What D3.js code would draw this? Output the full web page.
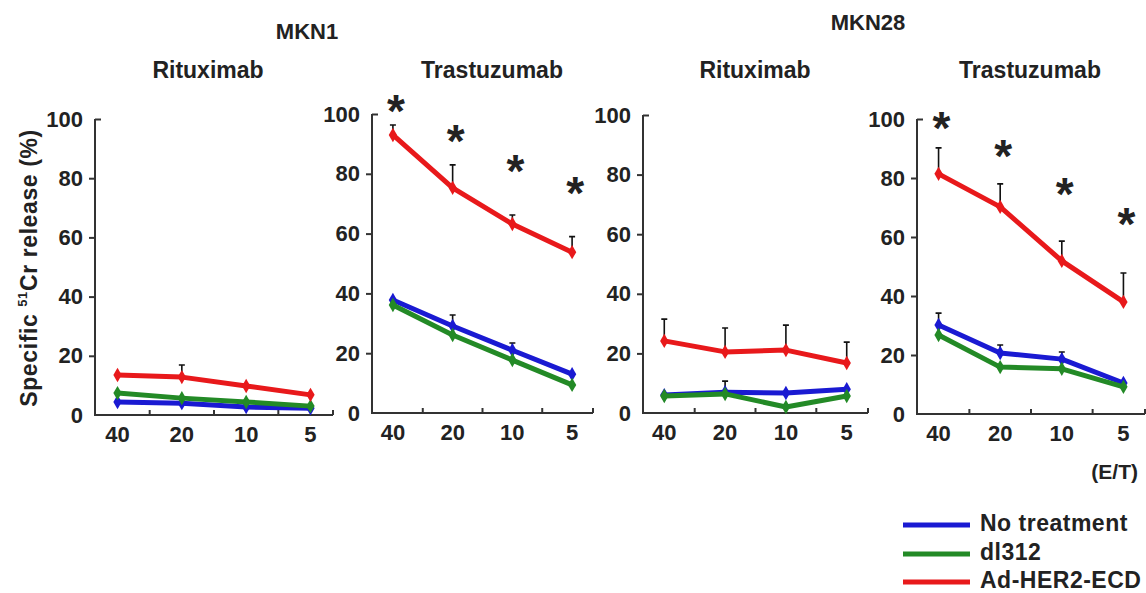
<!DOCTYPE html>
<html>
<head>
<meta charset="utf-8">
<script src="https://cdn.jsdelivr.net/npm/d3@7"></script>
<style>
body{margin:0;background:#fff;}
text{font-family:"Liberation Sans",Arial,sans-serif;font-weight:bold;fill:#222;}
</style>
</head>
<body>
<div id="chart"></div>
<script>
// E/T ratios on the x axis
const ratios=["40","20","10","5"];
const cellLines=["MKN1","MKN28"];
const antibodies=["Rituximab","Trastuzumab","Rituximab","Trastuzumab"];
const seriesNames=["No treatment","dl312","Ad-HER2-ECD"];
const yTicks=[0,20,40,60,80,100];

// specific 51Cr release (%), one row per panel
const noTreatment=[[4.4,4.0,2.7,2.3],[37.8,29.1,21.0,13.0],[6.0,7.0,6.7,8.0],[30.2,20.7,18.6,10.5]];
const dl312=[[7.4,5.7,4.4,3.0],[36.1,26.1,17.7,9.4],[5.7,6.4,2.0,5.7],[26.8,15.9,15.3,9.2]];
const adHer2=[[13.5,12.8,9.8,6.8],[93.0,75.3,63.2,53.8],[24.2,20.5,21.1,16.8],[81.4,70.2,51.9,38.0]];
// upper error (SD), null = not drawn
const noTreatmentErr=[[null,null,null,null],[null,3.7,2.4,null],[null,3.7,null,null],[4.0,2.7,2.4,null]];
const dl312Err=[[null,null,null,null],[null,null,null,null],[null,null,null,null],[null,null,null,null]];
const adHer2Err=[[null,4.1,null,null],[3.3,7.7,3.0,5.2],[7.3,8.0,8.4,7.0],[8.8,7.8,6.7,9.8]];
// level (%) of significance asterisks
const starLevels=[[],[104.7,94.6,84.6,77.0],[],[100.7,91.2,78.3,68.0]];

const colors=["#1a1ad2","#238a26","#e8191b"];
const seriesVals=[noTreatment,dl312,adHer2];
const seriesErr=[noTreatmentErr,dl312Err,adHer2Err];

const width=1146,height=593;
const svg=d3.select("#chart").append("svg").attr("width",width).attr("height",height);

// panel layout
const panels=[
	{x0:95,w:238,top:119,bot:415,tx:208},
	{x0:372,w:221,top:114,bot:413,tx:492},
	{x0:643,w:225,top:115,bot:413,tx:755},
	{x0:917,w:228,top:119,bot:414,tx:1030}
];
const cellTitle=[{x:307,y:33},{x:868,y:24}];

cellLines.forEach(function(c,i){
	svg.append("text").attr("x",cellTitle[i].x).attr("y",cellTitle[i].y)
		.attr("text-anchor","middle").attr("dominant-baseline","middle")
		.style("font-size","22px").text(c);
});

panels.forEach(function(p,pi){
	const g=svg.append("g");
	const x=d3.scalePoint().domain(ratios).range([p.x0,p.x0+p.w]).padding(0.35);
	const y=d3.scaleLinear().domain([0,100]).range([p.bot,p.top]);

	g.append("text").attr("x",p.tx).attr("y",72)
		.attr("text-anchor","middle").attr("dominant-baseline","middle")
		.style("font-size","23px").text(antibodies[pi]);

	// y axis
	const yAxis=g.append("g").attr("transform","translate("+p.x0+",0)")
		.call(d3.axisLeft(y).tickValues(yTicks).tickSize(6).tickPadding(6));
	yAxis.select(".domain").remove();
	yAxis.selectAll(".tick line").attr("stroke","#333").attr("stroke-width",2)
		.attr("x2",function(d){return d===100?6:(d===0?0:-6);});
	yAxis.selectAll(".tick text").style("font-size","22px").style("font-family",null).attr("fill","#222");
	g.append("line").attr("x1",p.x0).attr("x2",p.x0).attr("y1",y(100)).attr("y2",y(0))
		.attr("stroke","#333").attr("stroke-width",2);

	// x axis: ticks between categories, pointing up
	g.append("line").attr("x1",p.x0-1).attr("x2",p.x0+p.w).attr("y1",y(0)).attr("y2",y(0))
		.attr("stroke","#333").attr("stroke-width",2);
	const step=x.step();
	const tickPos=ratios.slice(1).map(function(r){return x(r)-step/2;}).concat([p.x0+p.w]);
	g.selectAll(".xt").data(tickPos).join("line")
		.attr("x1",function(d){return d;}).attr("x2",function(d){return d;})
		.attr("y1",y(0)).attr("y2",y(0)-5).attr("stroke","#333").attr("stroke-width",2);
	g.selectAll(".xl").data(ratios).join("text")
		.attr("x",function(d){return x(d);}).attr("y",y(0)+21)
		.attr("text-anchor","middle").attr("dominant-baseline","middle")
		.style("font-size","22px").text(function(d){return d;});

	// error bars
	seriesVals.forEach(function(vals,si){
		const pts=ratios.map(function(r,k){return {r:r,v:vals[pi][k],e:seriesErr[si][pi][k]};})
			.filter(function(d){return d.e!=null;});
		g.selectAll(".eb"+si).data(pts).join("path")
			.attr("d",function(d){
				const xx=x(d.r),yt=y(d.v+d.e);
				return "M"+xx+","+y(d.v)+"V"+yt+"M"+(xx-3)+","+yt+"H"+(xx+3);
			})
			.attr("fill","none").attr("stroke","#111").attr("stroke-width",1.6);
	});

	// lines and markers
	const line=d3.line().x(function(d){return x(d.r);}).y(function(d){return y(d.v);});
	seriesVals.forEach(function(vals,si){
		const pts=ratios.map(function(r,k){return {r:r,v:vals[pi][k]};});
		g.append("path").datum(pts).attr("d",line)
			.attr("fill","none").attr("stroke",colors[si]).attr("stroke-width",5)
			.attr("stroke-linejoin","round");
		g.selectAll(".mk"+si).data(pts).join("path")
			.attr("d",d3.symbol().type(d3.symbolDiamond).size(60))
			.attr("transform",function(d){return "translate("+x(d.r)+","+y(d.v)+")";})
			.attr("fill",colors[si]);
	});

	// significance asterisks
	g.selectAll(".star").data(starLevels[pi]).join("text")
		.attr("x",function(d,k){return x(ratios[k])+3;})
		.attr("y",function(d){return y(d)+0.58*46;})
		.attr("text-anchor","middle")
		.style("font-size","46px").attr("fill","#111").text("*");
});

// y axis title
svg.append("text")
	.attr("transform","translate(31,268) rotate(-90)")
	.attr("text-anchor","middle").attr("dominant-baseline","middle")
	.style("font-size","23px").style("letter-spacing","0.6px")
	.call(function(t){
		t.append("tspan").text("Specific ");
		t.append("tspan").attr("baseline-shift","super").style("font-size","13px").text("51");
		t.append("tspan").text("Cr release (%)");
	});

// E/T label
svg.append("text").attr("x",1138).attr("y",473).attr("text-anchor","end")
	.attr("dominant-baseline","middle").style("font-size","21px").text("(E/T)");

// legend
const legY=[525,554,582];
seriesNames.forEach(function(n,i){
	svg.append("line").attr("x1",903).attr("x2",970).attr("y1",legY[i]).attr("y2",legY[i])
		.attr("stroke",colors[i]).attr("stroke-width",5);
	svg.append("text").attr("x",980).attr("y",legY[i]).attr("dominant-baseline","middle")
		.style("font-size","23px").style("letter-spacing","0.5px").text(n);
});
</script>
</body>
</html>
